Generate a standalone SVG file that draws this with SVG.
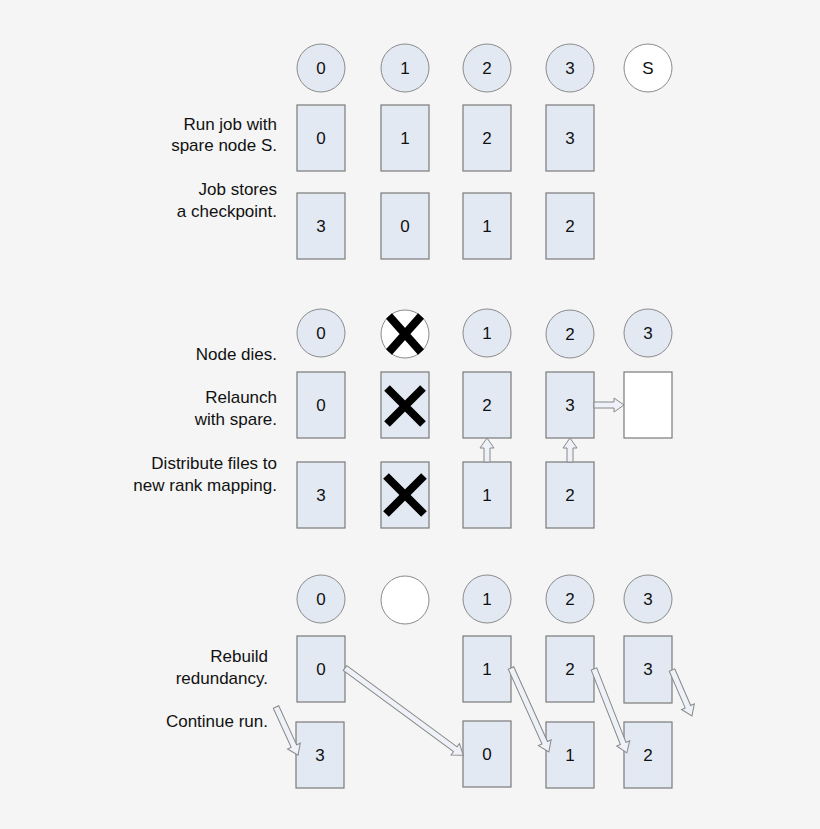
<svg xmlns="http://www.w3.org/2000/svg" width="820" height="829" viewBox="0 0 820 829">
<style>
.bg{fill:#f5f5f5}
.c{fill:#e3e9f3;stroke:#8a8a8a;stroke-width:1}
.cw{fill:#fff;stroke:#8a8a8a;stroke-width:1}
.b{fill:#e3e9f3;stroke:#7a7a7a;stroke-width:1.2}
.bw{fill:#fff;stroke:#7a7a7a;stroke-width:1.2}
text{font-family:"Liberation Sans",Arial,sans-serif;font-size:17px;fill:#111}
.n{text-anchor:middle;dominant-baseline:central}
.l{text-anchor:end}
.x{stroke:#000;stroke-width:8}
.a{fill:#eef1f7;stroke:#888;stroke-width:1}
</style>
<rect class="bg" width="820" height="829"/>
<g id="s1">
<g id="c1"><circle class="c" cx="321" cy="68" r="24"/><text class="n" x="321" y="68">0</text></g>
<g id="c2"><circle class="c" cx="405" cy="68" r="24"/><text class="n" x="405" y="68">1</text></g>
<g id="c3"><circle class="c" cx="487" cy="68" r="24"/><text class="n" x="487" y="68">2</text></g>
<g id="c4"><circle class="c" cx="570" cy="68" r="24"/><text class="n" x="570" y="68">3</text></g>
<g id="c5"><circle class="cw" cx="648" cy="68" r="24"/><text class="n" x="648" y="68">S</text></g>
<text class="l" x="277" y="130">Run job with</text><text class="l" x="277" y="151">spare node S.</text>
<text class="l" x="277" y="195">Job stores</text><text class="l" x="277" y="217">a checkpoint.</text>
<g id="b1"><rect class="b" x="297" y="105" width="48" height="66"/><text class="n" x="321" y="138">0</text></g>
<g id="b2"><rect class="b" x="381" y="105" width="48" height="66"/><text class="n" x="405" y="138">1</text></g>
<g id="b3"><rect class="b" x="463" y="105" width="48" height="66"/><text class="n" x="487" y="138">2</text></g>
<g id="b4"><rect class="b" x="546" y="105" width="48" height="66"/><text class="n" x="570" y="138">3</text></g>
<g id="b5"><rect class="b" x="297" y="193" width="48" height="66"/><text class="n" x="321" y="226">3</text></g>
<g id="b6"><rect class="b" x="381" y="193" width="48" height="66"/><text class="n" x="405" y="226">0</text></g>
<g id="b7"><rect class="b" x="463" y="193" width="48" height="66"/><text class="n" x="487" y="226">1</text></g>
<g id="b8"><rect class="b" x="546" y="193" width="48" height="66"/><text class="n" x="570" y="226">2</text></g>
</g>
<g id="s2">
<g id="c6"><circle class="c" cx="321" cy="333" r="24"/><text class="n" x="321" y="333">0</text></g>
<g id="c7"><circle class="cw" cx="405" cy="334" r="24"/><path class="x" d="M389,316 L421,352 M421,316 L389,352"/></g>
<g id="c8"><circle class="c" cx="487" cy="333" r="24"/><text class="n" x="487" y="333">1</text></g>
<g id="c9"><circle class="c" cx="570" cy="334" r="24"/><text class="n" x="570" y="334">2</text></g>
<g id="c10"><circle class="c" cx="648" cy="333" r="24"/><text class="n" x="648" y="333">3</text></g>
<text class="l" x="277" y="360">Node dies.</text>
<text class="l" x="277" y="403">Relaunch</text><text class="l" x="277" y="425">with spare.</text>
<text class="l" x="277" y="469">Distribute files to</text><text class="l" x="277" y="491">new rank mapping.</text>
<g id="b9"><rect class="b" x="297" y="372" width="48" height="66"/><text class="n" x="321" y="405">0</text></g>
<g id="b10"><rect class="b" x="381" y="372" width="48" height="66"/><path class="x" d="M387,388 L423,424 M423,388 L387,424"/></g>
<g id="b11"><rect class="b" x="463" y="372" width="48" height="66"/><text class="n" x="487" y="405">2</text></g>
<g id="b12"><rect class="b" x="546" y="372" width="48" height="66"/><text class="n" x="570" y="405">3</text></g>
<g id="b13"><rect class="bw" x="624" y="372" width="48" height="66"/></g>
<g id="b14"><rect class="b" x="297" y="462" width="48" height="66"/><text class="n" x="321" y="495">3</text></g>
<g id="b15"><rect class="b" x="381" y="462" width="48" height="66"/><path class="x" d="M386,476 L424,514 M424,476 L386,514"/></g>
<g id="b16"><rect class="b" x="463" y="462" width="48" height="66"/><text class="n" x="487" y="495">1</text></g>
<g id="b17"><rect class="b" x="546" y="462" width="48" height="66"/><text class="n" x="570" y="495">2</text></g>
</g>
<g id="s3">
<g id="c11"><circle class="c" cx="321" cy="599" r="24"/><text class="n" x="321" y="599">0</text></g>
<g id="c12"><circle class="cw" cx="405" cy="600" r="24"/></g>
<g id="c13"><circle class="c" cx="487" cy="599" r="24"/><text class="n" x="487" y="599">1</text></g>
<g id="c14"><circle class="c" cx="570" cy="599" r="24"/><text class="n" x="570" y="599">2</text></g>
<g id="c15"><circle class="c" cx="648" cy="599" r="24"/><text class="n" x="648" y="599">3</text></g>
<text class="l" x="268" y="662">Rebuild</text><text class="l" x="268" y="684">redundancy.</text>
<text class="l" x="268" y="727">Continue run.</text>
<g id="b18"><rect class="b" x="297" y="636" width="48" height="66"/><text class="n" x="321" y="669">0</text></g>
<g id="b19"><rect class="b" x="463" y="636" width="48" height="66"/><text class="n" x="487" y="669">1</text></g>
<g id="b20"><rect class="b" x="546" y="636" width="48" height="66"/><text class="n" x="570" y="669">2</text></g>
<g id="b21"><rect class="b" x="624" y="636" width="48" height="67"/><text class="n" x="648" y="669">3</text></g>
<g id="b22"><rect class="b" x="296" y="722" width="48" height="66"/><text class="n" x="320" y="755">3</text></g>
<g id="b23"><rect class="b" x="463" y="721" width="48" height="66"/><text class="n" x="487" y="754">0</text></g>
<g id="b24"><rect class="b" x="546" y="722" width="48" height="66"/><text class="n" x="570" y="755">1</text></g>
<g id="b25"><rect class="b" x="624" y="722" width="48" height="66"/><text class="n" x="648" y="755">2</text></g>
</g>
<g id="connectors">
<g transform="translate(487,462) rotate(-90)"><path class="a" d="M0,-3H14V-7L24,0L14,7V3H0Z"/></g>
<g transform="translate(570,462) rotate(-90)"><path class="a" d="M0,-3H14V-7L24,0L14,7V3H0Z"/></g>
<g transform="translate(594,405)"><path class="a" d="M0,-3H20V-7L30,0L20,7V3H0Z"/></g>
<g transform="translate(345,668) rotate(36.4)"><path class="a" d="M0,-3H137V-7L147,0L137,7V3H0Z"/></g>
<g transform="translate(511,668) rotate(65.7)"><path class="a" d="M0,-3H82V-7L92,0L82,7V3H0Z"/></g>
<g transform="translate(594,669) rotate(68.6)"><path class="a" d="M0,-3H80V-7L90,0L80,7V3H0Z"/></g>
<g transform="translate(672,670) rotate(66.5)"><path class="a" d="M0,-3H40V-7L50,0L40,7V3H0Z"/></g>
<g transform="translate(276,707) rotate(65.4)"><path class="a" d="M0,-3H43V-7L53,0L43,7V3H0Z"/></g>
</g>
</svg>
